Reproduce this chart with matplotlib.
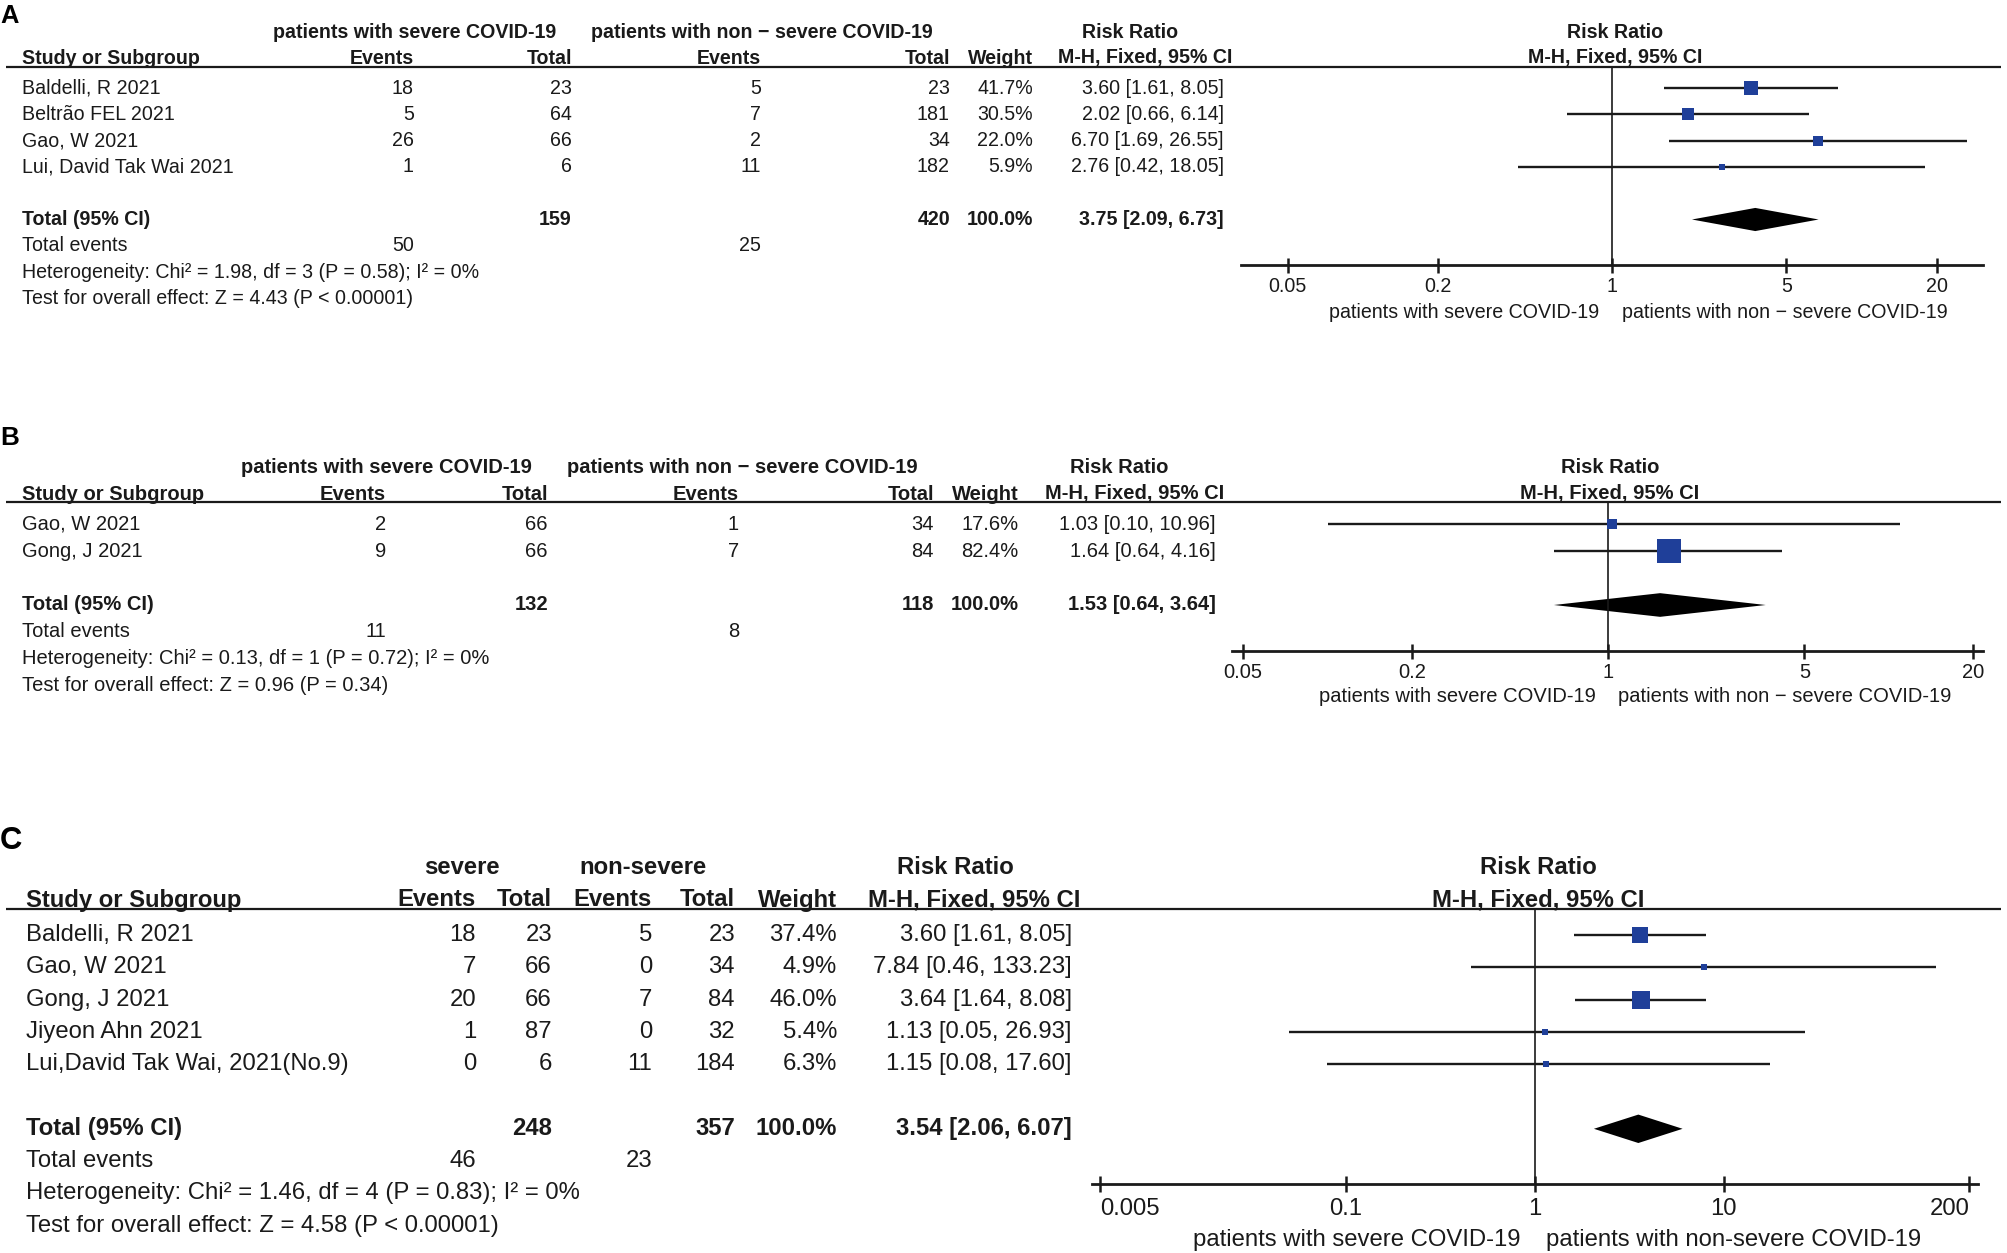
import numpy as np
import matplotlib
matplotlib.use('Agg')
import matplotlib.pyplot as plt
from matplotlib.ticker import NullLocator

plt.rcParams['font.family'] = ['Liberation Sans', 'DejaVu Sans']

W, H = 2008, 1253
INK = '#1a1a1a'
BLUE = '#1f3f99'

# ---- panel A data ----
studies_a = ["Baldelli, R 2021", "Beltrão FEL 2021", "Gao, W 2021", "Lui, David Tak Wai 2021"]
ev1_a = [18, 5, 26, 1]
tot1_a = [23, 64, 66, 6]
ev2_a = [5, 7, 2, 11]
tot2_a = [23, 181, 34, 182]
weight_a = [41.7, 30.5, 22.0, 5.9]
rr_a = [3.60, 2.02, 6.70, 2.76]
lo_a = [1.61, 0.66, 1.69, 0.42]
hi_a = [8.05, 6.14, 26.55, 18.05]
pooled_a = [3.75, 2.09, 6.73]
stats_a = ["Heterogeneity: Chi² = 1.98, df = 3 (P = 0.58); I² = 0%",
           "Test for overall effect: Z = 4.43 (P < 0.00001)"]
groups_a = ["patients with severe COVID-19", "patients with non − severe COVID-19"]
ticks_a = [0.05, 0.2, 1, 5, 20]
ticklabels_a = ["0.05", "0.2", "1", "5", "20"]
favours_a = ["patients with severe COVID-19", "patients with non − severe COVID-19"]

# ---- panel B data ----
studies_b = ["Gao, W 2021", "Gong, J 2021"]
ev1_b = [2, 9]
tot1_b = [66, 66]
ev2_b = [1, 7]
tot2_b = [34, 84]
weight_b = [17.6, 82.4]
rr_b = [1.03, 1.64]
lo_b = [0.10, 0.64]
hi_b = [10.96, 4.16]
pooled_b = [1.53, 0.64, 3.64]
stats_b = ["Heterogeneity: Chi² = 0.13, df = 1 (P = 0.72); I² = 0%",
           "Test for overall effect: Z = 0.96 (P = 0.34)"]
groups_b = groups_a
ticks_b = ticks_a
ticklabels_b = ticklabels_a
favours_b = favours_a

# ---- panel C data ----
studies_c = ["Baldelli, R 2021", "Gao, W 2021", "Gong, J 2021", "Jiyeon Ahn 2021",
             "Lui,David Tak Wai, 2021(No.9)"]
ev1_c = [18, 7, 20, 1, 0]
tot1_c = [23, 66, 66, 87, 6]
ev2_c = [5, 0, 7, 0, 11]
tot2_c = [23, 34, 84, 32, 184]
weight_c = [37.4, 4.9, 46.0, 5.4, 6.3]
rr_c = [3.60, 7.84, 3.64, 1.13, 1.15]
lo_c = [1.61, 0.46, 1.64, 0.05, 0.08]
hi_c = [8.05, 133.23, 8.08, 26.93, 17.60]
pooled_c = [3.54, 2.06, 6.07]
stats_c = ["Heterogeneity: Chi² = 1.46, df = 4 (P = 0.83); I² = 0%",
           "Test for overall effect: Z = 4.58 (P < 0.00001)"]
groups_c = ["severe", "non-severe"]
ticks_c = [0.005, 0.1, 1, 10, 200]
ticklabels_c = ["0.005", "0.1", "1", "10", "200"]
favours_c = ["patients with severe COVID-19", "patients with non-severe COVID-19"]

# layout of each panel, in pixels of the 2008x1253 canvas
lay_a = dict(top=0, bottom=335, y0=88, dy=26.3, fs=14.1, letter_y=16, group_y=32, col_y=58,
             hdr_y=67, axis_y=265, study_x=22, ev1_x=414, tot1_x=572, ev2_x=761, tot2_x=950,
             w_x=1033, ci_x=1224, g1_x=414.7, g2_x=762, g3_x=1130.5, f_left=1241, f_right=1983,
             xlim=(0.0325, 30.7), rr_x=1615, sq_k=2.2, lab_dy=34, lab_dx=9, tick_len=10.8, pad=3,
             edge_labels=False)
lay_b = dict(top=420, bottom=720, y0=524.3, dy=26.9, fs=14.5, letter_y=438, group_y=467.7, col_y=494,
             hdr_y=502, axis_y=651, study_x=22.3, ev1_x=386, tot1_x=548, ev2_x=739, tot2_x=934,
             w_x=1018.5, ci_x=1216, g1_x=386, g2_x=742.5, g3_x=1119, f_left=1232.5, f_right=1983.3,
             xlim=(0.0458, 21.7), rr_x=1610, sq_k=2.6, lab_dy=33, lab_dx=9, tick_len=10.8, pad=3,
             edge_labels=False)
lay_c = dict(top=820, bottom=1253, y0=935, dy=32.3, fs=17.2, letter_y=841, group_y=868, col_y=900,
             hdr_y=909.3, axis_y=1184.3, study_x=26, ev1_x=476, tot1_x=552, ev2_x=652, tot2_x=735,
             w_x=837, ci_x=1072, g1_x=462.3, g2_x=643, g3_x=955, f_left=1092, f_right=1978,
             xlim=(0.00455, 222), rr_x=1538, sq_k=2.65, lab_dy=40, lab_dx=10, tick_len=11.3, pad=4,
             edge_labels=True)

fig = plt.figure(figsize=(W / 100, H / 100), dpi=100)


def draw_panel(letter, L, studies, ev1, tot1, ev2, tot2, weight, rr, lo, hi, pooled,
               stats, groups, ticks, ticklabels, favours):
    y0, dy, fs = L['y0'], L['dy'], L['fs']

    def yi(px):
        return (px - y0) / dy

    ax = fig.add_axes([0, 1 - L['bottom'] / H, 1, (L['bottom'] - L['top']) / H])
    ax.set_xlim(0, W)
    ax.set_ylim(yi(L['bottom']), yi(L['top']))
    ax.axis('off')

    txt = dict(fontsize=fs, color=INK, va='center')
    bold = dict(txt, fontweight='bold')

    ax.text(0, yi(L['letter_y']), letter, fontsize=fs * 1.3, fontweight='bold', va='center', ha='left')

    gy = yi(L['group_y'])
    ax.text(L['g1_x'], gy, groups[0], ha='center', **bold)
    ax.text(L['g2_x'], gy, groups[1], ha='center', **bold)
    ax.text(L['g3_x'], gy, "Risk Ratio", ha='center', **bold)
    ax.text(L['rr_x'], gy, "Risk Ratio", ha='center', **bold)

    cy = yi(L['col_y'])
    ax.text(L['study_x'], cy, "Study or Subgroup", ha='left', **bold)
    for key, lab in [('ev1_x', 'Events'), ('tot1_x', 'Total'), ('ev2_x', 'Events'),
                     ('tot2_x', 'Total'), ('w_x', 'Weight')]:
        ax.text(L[key], cy, lab, ha='right', **bold)
    ax.text(L['ci_x'] + 8, cy, "M-H, Fixed, 95% CI", ha='right', **bold)
    ax.text(L['rr_x'], cy, "M-H, Fixed, 95% CI", ha='center', **bold)

    ax.plot([6, 2001], [yi(L['hdr_y'])] * 2, color=INK, lw=1.6, solid_capstyle='butt')

    n = len(studies)
    for i in range(n):
        ax.text(L['study_x'], i, studies[i], ha='left', **txt)
        ax.text(L['ev1_x'], i, str(ev1[i]), ha='right', **txt)
        ax.text(L['tot1_x'], i, str(tot1[i]), ha='right', **txt)
        ax.text(L['ev2_x'], i, str(ev2[i]), ha='right', **txt)
        ax.text(L['tot2_x'], i, str(tot2[i]), ha='right', **txt)
        ax.text(L['w_x'], i, f"{weight[i]:.1f}%", ha='right', **txt)
        ax.text(L['ci_x'], i, f"{rr[i]:.2f} [{lo[i]:.2f}, {hi[i]:.2f}]", ha='right', **txt)

    t = n + 1
    ax.text(L['study_x'], t, "Total (95% CI)", ha='left', **bold)
    ax.text(L['tot1_x'], t, str(sum(tot1)), ha='right', **bold)
    ax.text(L['tot2_x'], t, str(sum(tot2)), ha='right', **bold)
    ax.text(L['w_x'], t, "100.0%", ha='right', **bold)
    ax.text(L['ci_x'], t, f"{pooled[0]:.2f} [{pooled[1]:.2f}, {pooled[2]:.2f}]", ha='right', **bold)

    ax.text(L['study_x'], t + 1, "Total events", ha='left', **txt)
    ax.text(L['ev1_x'], t + 1, str(sum(ev1)), ha='right', **txt)
    ax.text(L['ev2_x'], t + 1, str(sum(ev2)), ha='right', **txt)
    ax.text(L['study_x'], t + 2, stats[0], ha='left', **txt)
    ax.text(L['study_x'], t + 3, stats[1], ha='left', **txt)

    # forest plot
    fx = L['f_left'] / W
    fw = (L['f_right'] - L['f_left']) / W
    axf = fig.add_axes([fx, 1 - L['axis_y'] / H, fw, (L['axis_y'] - L['hdr_y']) / H])
    axf.set_facecolor('none')
    axf.set_xscale('log')
    axf.set_xlim(*L['xlim'])
    axf.set_ylim(yi(L['axis_y']), yi(L['hdr_y']))
    for s in ['top', 'left', 'right']:
        axf.spines[s].set_visible(False)
    axf.spines['bottom'].set_linewidth(2.0)
    axf.spines['bottom'].set_color(INK)
    axf.set_yticks([])
    axf.set_xticks(ticks)
    axf.set_xticklabels(ticklabels)
    axf.xaxis.set_minor_locator(NullLocator())
    axf.tick_params(axis='x', direction='inout', length=L['tick_len'], width=1.8,
                    labelsize=fs, pad=L['pad'], color=INK, labelcolor=INK)
    if L['edge_labels']:
        labs = axf.get_xticklabels()
        labs[0].set_horizontalalignment('left')
        labs[-1].set_horizontalalignment('right')

    axf.axvline(1, color=INK, lw=1.2)
    for i in range(n):
        axf.plot([lo[i], hi[i]], [i, i], color=INK, lw=1.7, solid_capstyle='butt')
        axf.plot(rr[i], i, marker='s', ms=L['sq_k'] * np.sqrt(weight[i]) * 0.72,
                 color=BLUE, mew=0, linestyle='none')
    axf.fill([pooled[1], pooled[0], pooled[2], pooled[0]],
             [t, t - 0.44, t, t + 0.44], color='black', lw=0)

    xf = axf.get_xaxis_transform()
    axf.annotate(favours[0], xy=(1, 0), xycoords=xf, xytext=(-L['lab_dx'], -L['lab_dy']),
                 textcoords='offset points', ha='right', va='center', fontsize=fs, color=INK)
    axf.annotate(favours[1], xy=(1, 0), xycoords=xf, xytext=(L['lab_dx'] * 0.8, -L['lab_dy']),
                 textcoords='offset points', ha='left', va='center', fontsize=fs, color=INK)


draw_panel("A", lay_a, studies_a, ev1_a, tot1_a, ev2_a, tot2_a, weight_a, rr_a, lo_a, hi_a,
           pooled_a, stats_a, groups_a, ticks_a, ticklabels_a, favours_a)
draw_panel("B", lay_b, studies_b, ev1_b, tot1_b, ev2_b, tot2_b, weight_b, rr_b, lo_b, hi_b,
           pooled_b, stats_b, groups_b, ticks_b, ticklabels_b, favours_b)
draw_panel("C", lay_c, studies_c, ev1_c, tot1_c, ev2_c, tot2_c, weight_c, rr_c, lo_c, hi_c,
           pooled_c, stats_c, groups_c, ticks_c, ticklabels_c, favours_c)

fig.savefig("out.png", dpi=100)
